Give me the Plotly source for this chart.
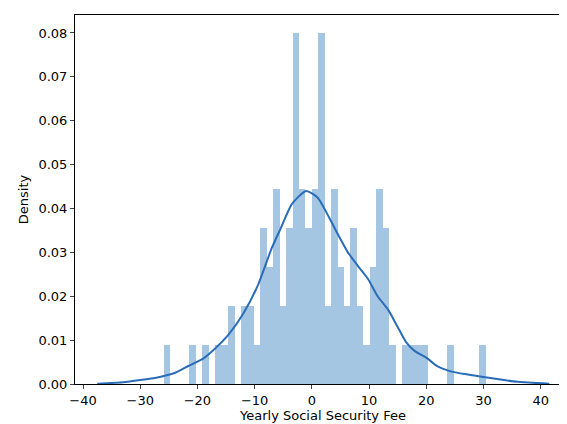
import plotly.graph_objects as go

bin_start = -25.9
bin_width = 1.126
n_obs = 100
counts = [1, 0, 0, 0, 1, 0, 1, 0, 1, 1,
          2, 0, 2, 2, 1, 4, 3, 5, 2, 4,
          9, 5, 4, 5, 9, 2, 5, 3, 2, 4,
          2, 1, 3, 5, 4, 1, 0, 1, 1, 1,
          1, 0, 0, 0, 1, 0, 0, 0, 0, 1]

kde_x = [-37.5, -33, -30, -27, -24, -21.6, -19, -17, -14.6, -12, -9.4, -7, -5.4, -3.5,
         -1, 1, 3, 4.6, 6.3, 8, 9.8, 11.5, 13.3, 15, 16.5, 18, 20, 22, 24, 27, 30, 33, 36, 41.5]
kde_y = [0.00005, 0.0004, 0.0009, 0.0015, 0.0025, 0.0041, 0.0058, 0.008, 0.0112, 0.016,
         0.0226, 0.031, 0.0356, 0.041, 0.044, 0.0425, 0.038, 0.034, 0.030, 0.027, 0.024,
         0.020, 0.017, 0.013, 0.0095, 0.0075, 0.006, 0.004, 0.003, 0.0022, 0.0016, 0.001,
         0.0005, 0.00005]

centers = [bin_start + bin_width * (i + 0.5) for i in range(len(counts))]
density = [c / (n_obs * bin_width) for c in counts]

fig = go.Figure()
fig.add_trace(go.Bar(x=centers, y=density, width=bin_width, marker_color="#a5c6e2",
                     marker_line_width=0))
fig.add_trace(go.Scatter(x=kde_x, y=kde_y, mode="lines",
                         line=dict(color="#2b6cb8", width=2, shape="spline", smoothing=0.6)))

axis = dict(showline=True, linecolor="black", mirror=True, ticks="outside", showgrid=False,
            zeroline=False, tickfont=dict(size=13, color="black"), ticklen=4, automargin=False)
fig.update_layout(
    width=567, height=424, margin=dict(l=67, r=4, t=7, b=48),
    plot_bgcolor="white", paper_bgcolor="white", showlegend=False, bargap=0,
    font=dict(family="DejaVu Sans", color="black"),
    xaxis=dict(axis, range=[-41.4, 45.3], dtick=10,
               title=dict(text="Yearly Social Security Fee", font=dict(size=13), standoff=4)),
    yaxis=dict(axis, range=[0, 0.0841], dtick=0.01, tickformat=".2f",
               title=dict(text="Density", font=dict(size=13), standoff=6)),
)
fig.write_html("out.html")
